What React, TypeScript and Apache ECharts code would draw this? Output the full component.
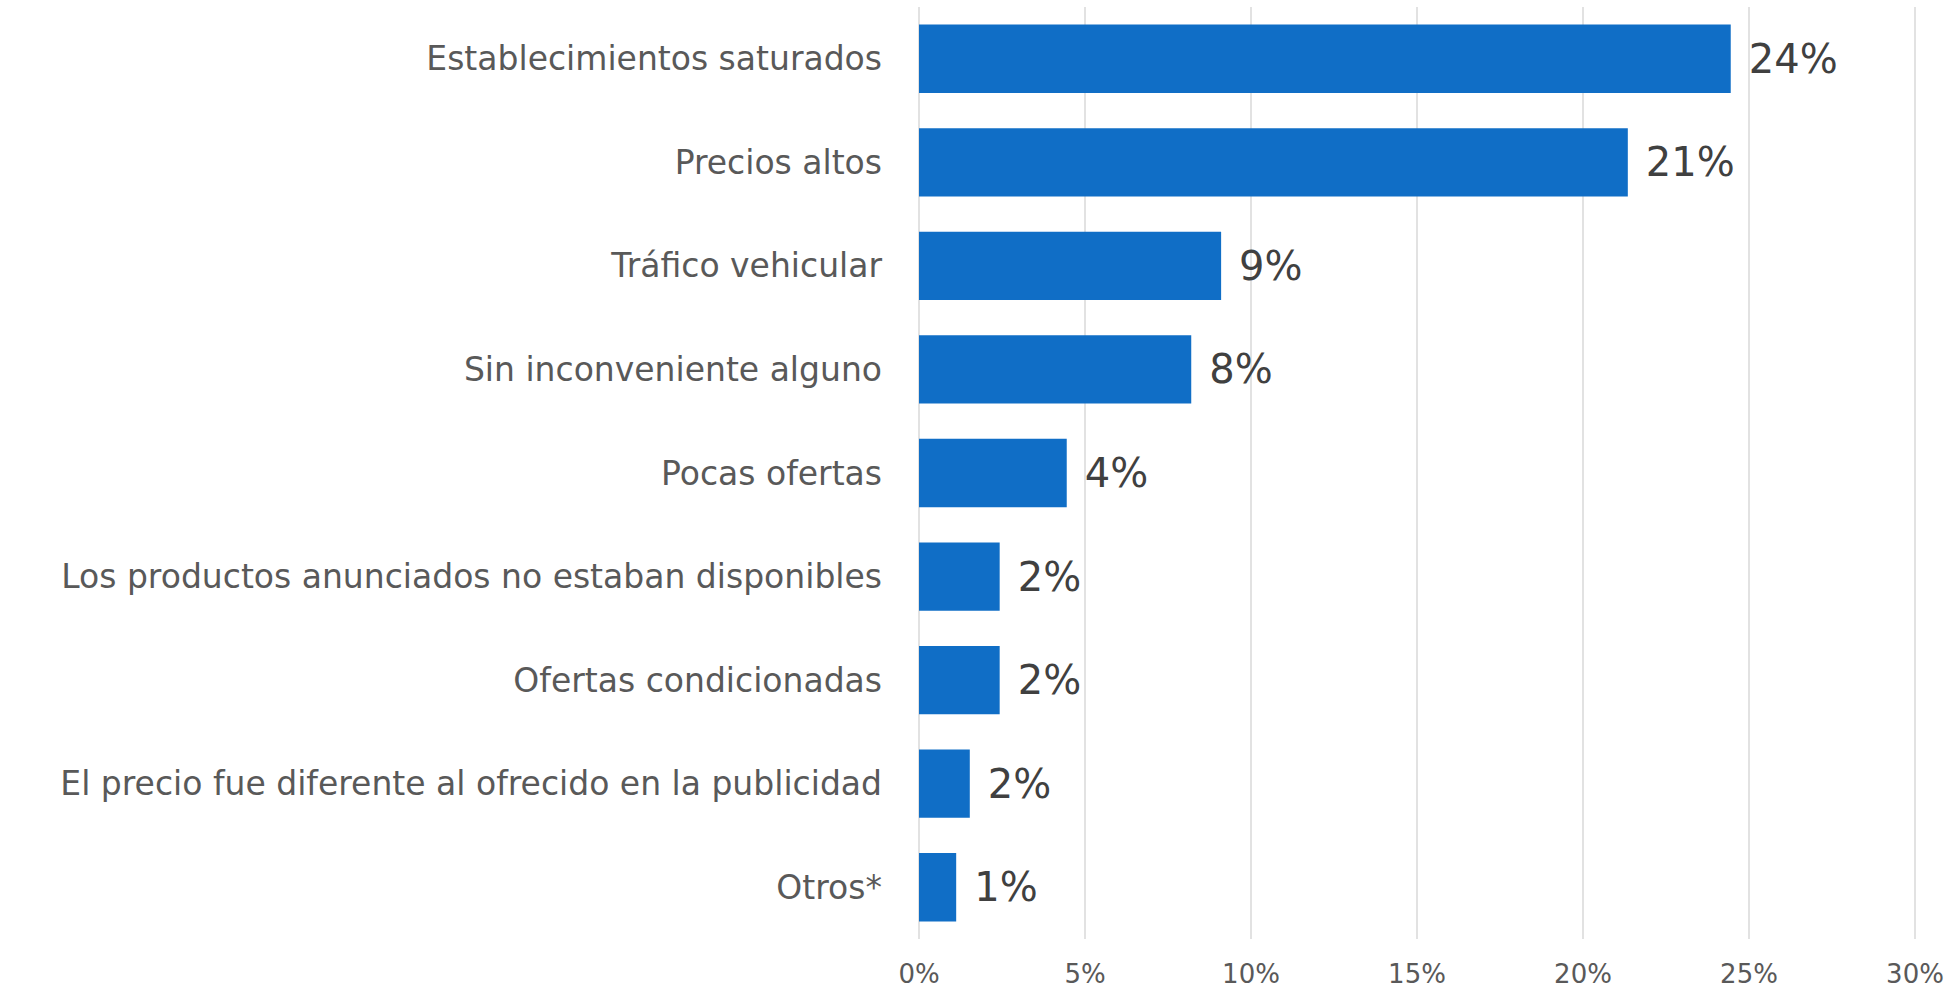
import React, { useEffect, useRef } from "react";
import * as echarts from "echarts";

const categories = [
  "Establecimientos saturados",
  "Precios altos",
  "Tráfico vehicular",
  "Sin inconveniente alguno",
  "Pocas ofertas",
  "Los productos anunciados no estaban disponibles",
  "Ofertas condicionadas",
  "El precio fue diferente al ofrecido en la publicidad",
  "Otros*",
];
const values = [24.45, 21.35, 9.1, 8.2, 4.45, 2.43, 2.43, 1.53, 1.12];
const tickValues = [0, 5, 10, 15, 20, 25, 30];

const FONT = "'DejaVu Sans', sans-serif";

export default function App() {
  const ref = useRef<HTMLDivElement>(null);
  useEffect(() => {
    if (!ref.current) return;
    const chart = echarts.init(ref.current, undefined, { renderer: "svg" });
    chart.setOption({
      animation: false,
      backgroundColor: "#ffffff",
      grid: { left: 919, right: 37, top: 7, bottom: 51, containLabel: false },
      xAxis: {
        type: "value",
        min: tickValues[0],
        max: tickValues[tickValues.length - 1],
        interval: 5,
        axisLine: { show: false },
        axisTick: { show: false },
        splitLine: { show: true, lineStyle: { color: "#d9d9d9", width: 1.5 } },
        axisLabel: {
          formatter: (v: number) => `${v}%`,
          color: "#595959",
          fontFamily: FONT,
          fontSize: 26,
          margin: 22,
        },
      },
      yAxis: {
        type: "category",
        data: categories,
        inverse: true,
        axisLine: { show: false },
        axisTick: { show: false },
        axisLabel: {
          color: "#595959",
          fontFamily: FONT,
          fontSize: 33,
          margin: 37,
        },
      },
      series: [
        {
          type: "bar",
          data: values,
          barCategoryGap: "34%",
          itemStyle: { color: "#106ec6" },
          label: {
            show: true,
            position: "right",
            distance: 18,
            color: "#404040",
            fontFamily: FONT,
            fontSize: 40,
            formatter: (p: any) => `${Math.round(p.value)}%`,
          },
        },
      ],
    });
    return () => chart.dispose();
  }, []);
  return <div ref={ref} style={{ width: 1952, height: 990, position: "absolute", left: 0, top: 0 }} />;
}
